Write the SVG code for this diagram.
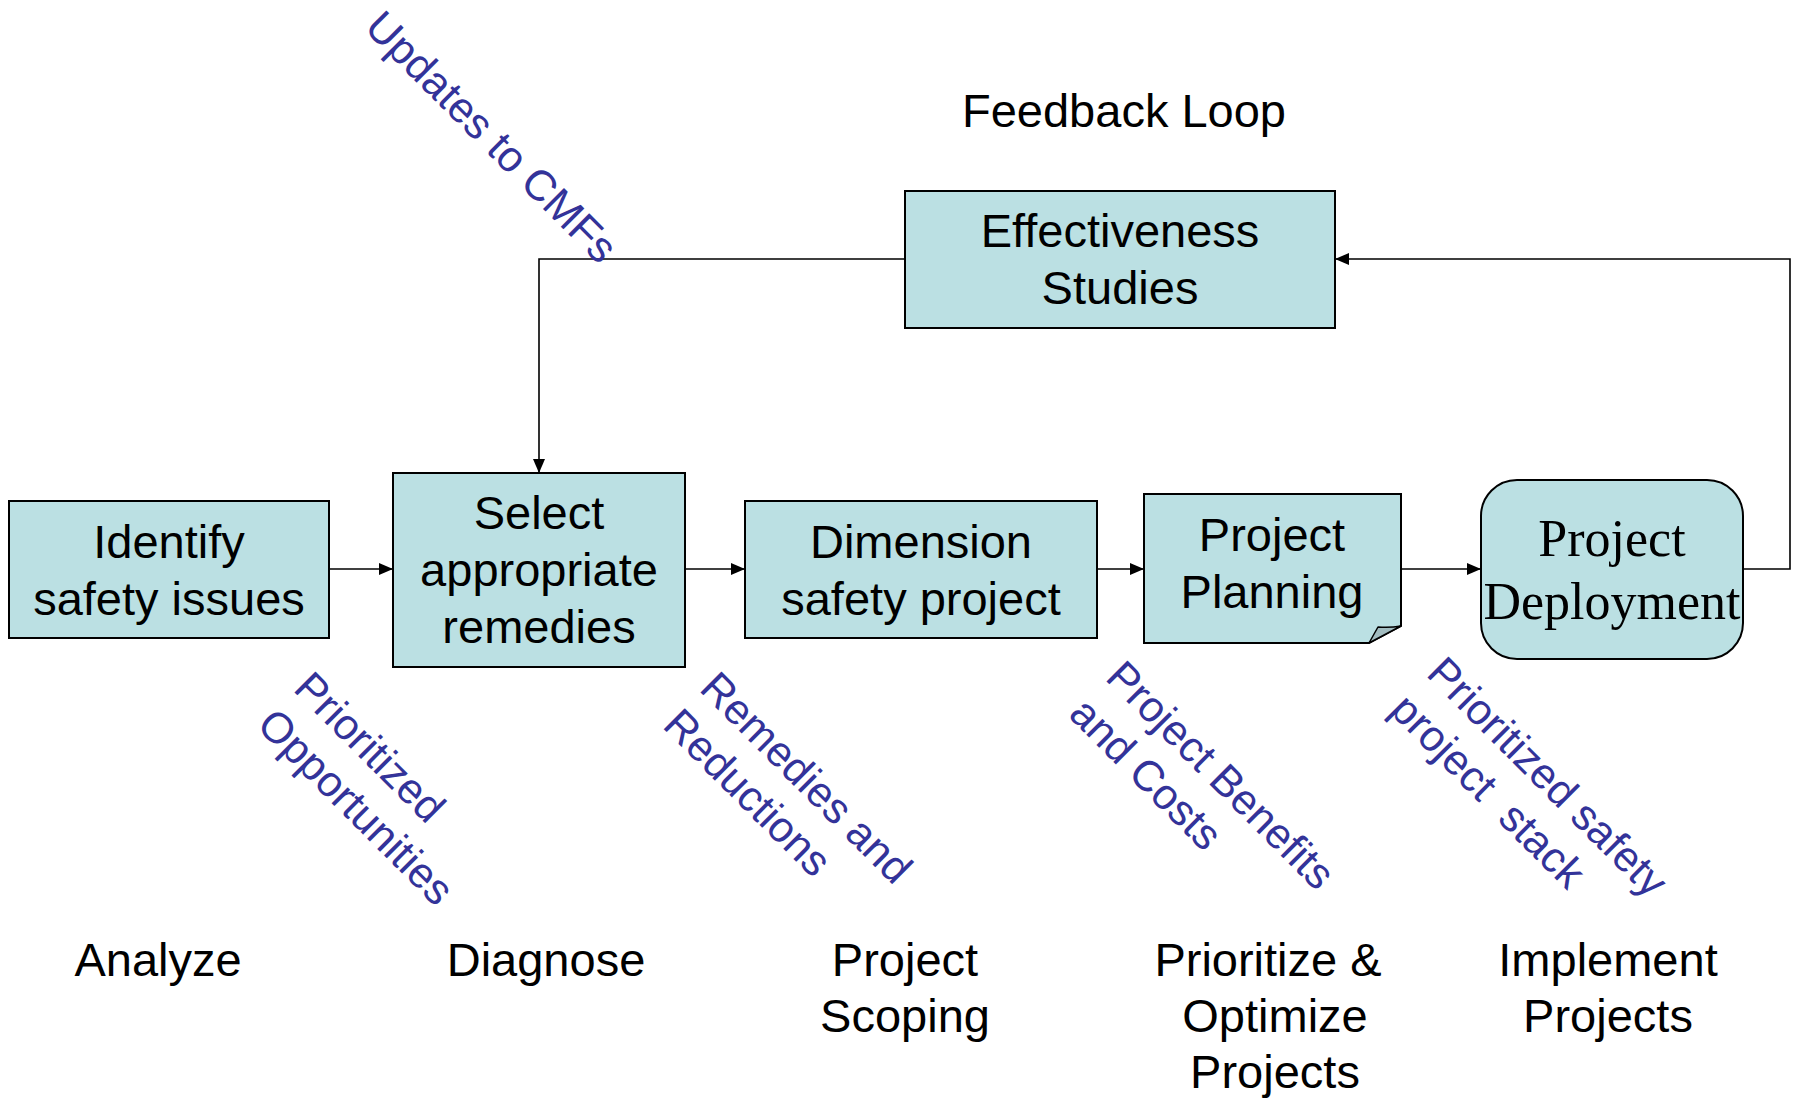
<svg xmlns="http://www.w3.org/2000/svg" width="1798" height="1099" viewBox="0 0 1798 1099">
  <defs>
    <marker id="arrow" viewBox="0 0 14 12" refX="14" refY="6" markerWidth="14" markerHeight="12" markerUnits="userSpaceOnUse" orient="auto">
      <path d="M0,0 L14,6 L0,12 Z" fill="#000"/>
    </marker>
    <style>
      .box { fill: #bbe0e3; stroke: #000; stroke-width: 2; }
      .fold { fill: #a2bcc0; stroke: #000; stroke-width: 1.5; stroke-linejoin: round; }
      .edge { fill: none; stroke: #000; stroke-width: 1.6; }
      .lbl { font-family: "Liberation Sans", Arial, sans-serif; font-size: 47px; fill: #000; text-anchor: middle; }
      .serif { font-family: "Liberation Serif", "Times New Roman", serif; font-size: 52px; fill: #000; text-anchor: middle; }
      .flow { font-family: "Liberation Sans", Arial, sans-serif; font-size: 43px; fill: #333399; }
    </style>
  </defs>

  <rect width="1798" height="1099" fill="#fff"/>

  <!-- connectors -->
  <g id="connectors">
    <path class="edge" d="M329,569 H393" marker-end="url(#arrow)"/>
    <path class="edge" d="M685,569 H745" marker-end="url(#arrow)"/>
    <path class="edge" d="M1097,569 H1144" marker-end="url(#arrow)"/>
    <path class="edge" d="M1401,569 H1481" marker-end="url(#arrow)"/>
    <path class="edge" d="M1743,569 H1790 V259 H1335" marker-end="url(#arrow)"/>
    <path class="edge" d="M905,259 H539 V473" marker-end="url(#arrow)"/>
  </g>

  <!-- process nodes -->
  <g id="identify">
    <rect class="box" x="9" y="501" width="320" height="137"/>
    <text class="lbl"><tspan x="169" y="558">Identify</tspan><tspan x="169" y="615">safety issues</tspan></text>
  </g>

  <g id="select">
    <rect class="box" x="393" y="473" width="292" height="194"/>
    <text class="lbl"><tspan x="539" y="529">Select</tspan><tspan x="539" y="586">appropriate</tspan><tspan x="539" y="643">remedies</tspan></text>
  </g>

  <g id="dimension">
    <rect class="box" x="745" y="501" width="352" height="137"/>
    <text class="lbl"><tspan x="921" y="558">Dimension</tspan><tspan x="921" y="615">safety project</tspan></text>
  </g>

  <g id="planning">
    <path class="box" d="M1144,494 H1401 V626 L1369,643 H1144 Z"/>
    <path class="fold" d="M1401,626 Q1390,628 1378,627 L1369,643 Z"/>
    <text class="lbl"><tspan x="1272" y="551">Project</tspan><tspan x="1272" y="608">Planning</tspan></text>
  </g>

  <g id="deployment">
    <rect class="box" x="1481" y="480" width="262" height="179" rx="36" ry="36"/>
    <text class="serif"><tspan x="1612" y="556">Project</tspan><tspan x="1612" y="619">Deployment</tspan></text>
  </g>

  <g id="effectiveness">
    <rect class="box" x="905" y="191" width="430" height="137"/>
    <text class="lbl"><tspan x="1120" y="247">Effectiveness</tspan><tspan x="1120" y="304">Studies</tspan></text>
  </g>

  <!-- heading -->
  <text class="lbl" x="1124" y="127">Feedback Loop</text>

  <!-- information passed along each step -->
  <g id="flow-labels">
    <text class="flow" transform="translate(363,29) rotate(45)">Updates to CMFs</text>
    <text class="flow" transform="translate(292,690) rotate(45)"><tspan x="0" y="0">Prioritized</tspan><tspan x="0" dy="52">Opportunities</tspan></text>
    <text class="flow" transform="translate(698,690) rotate(45)"><tspan x="0" y="0">Remedies and</tspan><tspan x="0" dy="52">Reductions</tspan></text>
    <text class="flow" transform="translate(1104,679) rotate(45)"><tspan x="0" y="0">Project Benefits</tspan><tspan x="0" dy="52">and Costs</tspan></text>
    <text class="flow" transform="translate(1425,675) rotate(45)" xml:space="preserve"><tspan x="0" y="0">Prioritized safety</tspan><tspan x="0" dy="52">project  stack</tspan></text>
  </g>

  <!-- phase names -->
  <g id="phases">
    <text class="lbl" x="158" y="976">Analyze</text>
    <text class="lbl" x="546" y="976">Diagnose</text>
    <text class="lbl"><tspan x="905" y="976">Project</tspan><tspan x="905" y="1032">Scoping</tspan></text>
    <text class="lbl"><tspan x="1268" y="976">Prioritize &amp;</tspan><tspan x="1275" y="1032">Optimize</tspan><tspan x="1275" y="1088">Projects</tspan></text>
    <text class="lbl"><tspan x="1608" y="976">Implement</tspan><tspan x="1608" y="1032">Projects</tspan></text>
  </g>
</svg>
